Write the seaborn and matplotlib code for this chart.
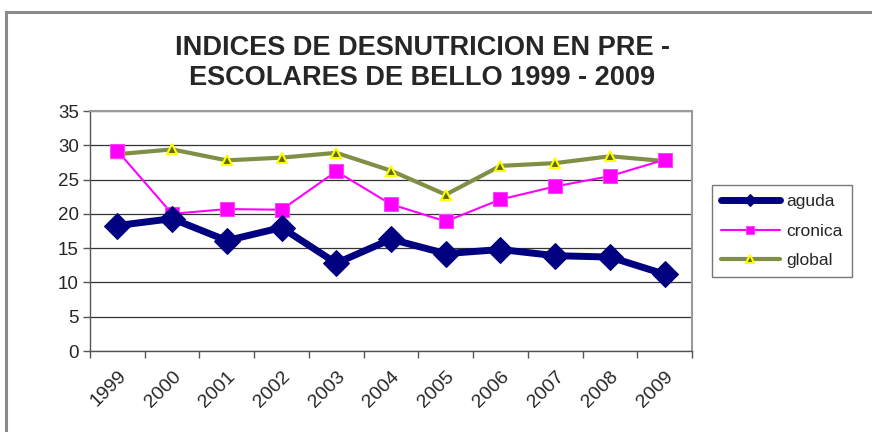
import matplotlib
matplotlib.use("Agg")
import matplotlib.pyplot as plt
import seaborn as sns
import pandas as pd
from matplotlib.patches import Rectangle
from matplotlib.ticker import FixedLocator, NullFormatter

years = ["1999", "2000", "2001", "2002", "2003", "2004", "2005", "2006", "2007", "2008", "2009"]
aguda = [18.3, 19.3, 16.1, 18.0, 12.8, 16.3, 14.2, 14.8, 13.9, 13.7, 11.2]
cronica = [29.2, 20.0, 20.7, 20.6, 26.2, 21.4, 18.9, 22.1, 24.0, 25.5, 27.9]
global_ = [28.7, 29.4, 27.8, 28.2, 28.9, 26.3, 22.8, 27.0, 27.4, 28.4, 27.7]
title = "INDICES DE DESNUTRICION EN PRE -\nESCOLARES DE BELLO 1999 - 2009"

sns.set_theme(style="white")
plt.rcParams["font.family"] = ["Liberation Sans", "DejaVu Sans"]

fig = plt.figure(figsize=(8.72, 4.32), dpi=100)
fig.patch.set_facecolor("white")
# outer chart frame
fig.add_artist(Rectangle((6 / 872, -0.05), 1.0, 1.05 - 12 / 432,
                         transform=fig.transFigure, fill=False,
                         edgecolor="#8a8a8a", linewidth=2.2))

ax = fig.add_axes([90 / 872, 1 - 351 / 432, (692 - 90) / 872, (351 - 111) / 432])
x = list(range(len(years)))
df = pd.DataFrame({"x": x, "aguda": aguda, "cronica": cronica, "global": global_})

sns.lineplot(data=df, x="x", y="aguda", ax=ax, color="#000080", linewidth=5,
             marker="D", markersize=13, markeredgecolor="#000080",
             markerfacecolor="#000080", label="aguda", zorder=5)
sns.lineplot(data=df, x="x", y="cronica", ax=ax, color="#ff00ff", linewidth=1.5,
             marker="s", markersize=10, markeredgecolor="#ff40ff",
             markerfacecolor="#ff00ff", label="cronica", zorder=4)
sns.lineplot(data=df, x="x", y="global", ax=ax, color="#7f8f45", linewidth=3,
             marker="^", markersize=7.5, markeredgecolor="#ffff00", markeredgewidth=1.5,
             markerfacecolor="#5f6a10", label="global", zorder=3)

ax.set_xlim(-0.5, len(years) - 0.5)
ax.set_ylim(0, 35)
ax.set_yticks(range(0, 36, 5))
ax.set_xticks(x)
ax.set_xticklabels(years, rotation=45, ha="right", rotation_mode="anchor", fontsize=14)
ax.xaxis.set_minor_locator(FixedLocator([i - 0.5 for i in range(len(years) + 1)]))
ax.xaxis.set_minor_formatter(NullFormatter())
ax.tick_params(axis="x", which="major", length=0, pad=12)
ax.tick_params(axis="x", which="minor", length=5, width=1, color="#555555", direction="out", bottom=True)
ax.tick_params(axis="y", which="major", length=5, width=1, color="#555555", direction="out", left=True, labelsize=13.5, pad=3)
ax.set_xlabel("")
ax.set_ylabel("")
ax.grid(axis="y", color="#333333", linewidth=0.9)
ax.set_axisbelow(True)
for s in ["top", "right"]:
    ax.spines[s].set_color("#9a9a9a")
    ax.spines[s].set_linewidth(1.5)
for s in ["left", "bottom"]:
    ax.spines[s].set_color("#555555")
    ax.spines[s].set_linewidth(1)

fig.text(422 / 872, 1 - 63 / 432, title, ha="center", va="center", fontsize=19.5,
         fontweight="bold", linespacing=1.2)

leg = ax.legend(loc="center left", bbox_to_anchor=(712 / 872, 1 - 231 / 432),
                bbox_transform=fig.transFigure, frameon=True, fontsize=12.5,
                handlelength=3.4, handletextpad=0.4, borderpad=0.5,
                labelspacing=0.85, fancybox=False, borderaxespad=0)
leg.get_frame().set_edgecolor("#555555")
leg.get_frame().set_linewidth(1)
for h in leg.legend_handles:
    h.set_markersize(6)

fig.savefig("out.png", dpi=100)
